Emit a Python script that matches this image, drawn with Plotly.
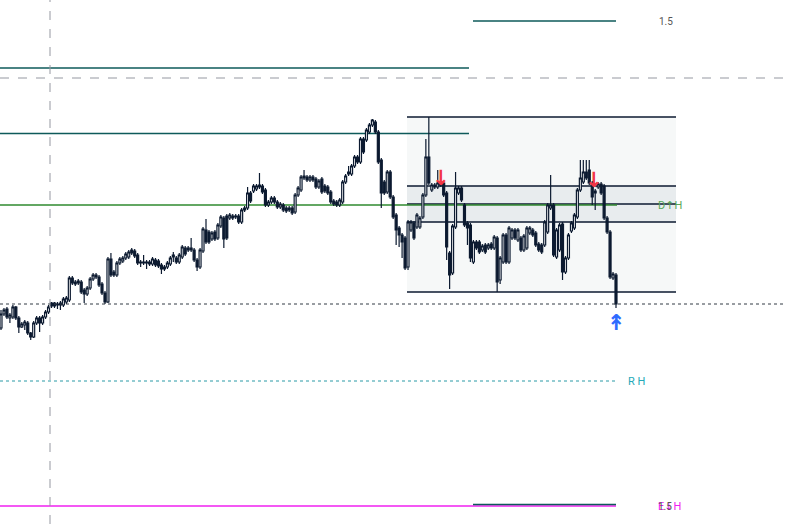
import plotly.graph_objects as go

opens = [196,210,215,206,207,217,206,197,199,201,191,187,201,206,201,207,212,221,221,219,
         219,219,222,224,246,240,241,242,234,230,236,245,247,247,240,231,222,265,252,249,
         261,263,266,267,274,273,269,262,261,262,260,260,264,263,259,255,257,260,267,266,
         262,267,276,274,274,274,264,257,273,294,292,285,292,286,298,306,308,306,306,308,
         308,302,314,316,331,333,335,337,338,334,319,322,326,322,317,319,316,314,316,312,
         329,334,346,347,344,347,345,337,345,338,337,332,323,322,319,322,342,350,350,358,
         367,362,385,384,392,399,402,392,364,342,332,352,327,309,296,289,286,257,294,301,
         297,297,307,329,367,334,337,337,341,341,331,271,251,297,331,336,319,301,299,262,
         282,282,274,279,276,280,276,286,244,262,289,262,286,294,284,286,274,276,291,294,
         291,280,279,279,292,316,319,267,274,300,252,266,293,296,307,334,342,352,354,341,
         331,337,340,338,306,292,246,249]
closes = [210,214,207,209,217,206,197,200,202,191,187,201,206,201,207,212,217,218,218,220,
          221,225,226,246,241,242,243,232,230,236,245,249,249,239,231,222,265,249,249,261,
          265,266,270,272,271,268,261,261,262,261,262,265,259,258,255,257,261,266,269,262,
          269,277,270,276,276,264,257,274,295,282,282,291,285,299,307,285,286,309,308,307,
          302,314,316,331,323,338,338,339,332,319,322,326,322,317,320,314,313,316,311,329,
          336,347,348,344,347,344,337,343,332,333,331,322,320,319,324,342,348,352,358,367,
          362,385,372,394,399,404,392,362,331,331,352,327,307,294,289,282,256,302,302,286,
          309,306,329,367,341,339,339,341,339,329,277,249,298,336,336,324,299,296,266,282,
          276,272,278,272,279,276,287,242,266,289,262,296,294,286,294,274,288,296,296,289,
          279,274,272,302,319,319,269,294,299,252,266,289,301,309,334,346,352,346,341,327,
          333,340,331,306,292,247,250,220]
highs = [214,216,217,211,219,218,208,202,204,203,192,203,208,208,209,214,219,222,222,222,
         223,227,228,248,248,244,245,244,236,238,247,251,251,249,242,233,267,271,254,263,
         267,268,272,274,276,275,271,264,269,264,264,267,266,265,261,259,263,268,272,268,
         271,279,278,278,286,276,266,276,297,305,294,293,294,301,309,308,310,311,310,310,
         310,316,318,337,333,340,340,351,340,336,324,328,328,324,322,321,318,318,318,331,
         338,349,354,349,349,349,347,345,347,340,339,334,325,324,326,344,350,358,360,369,
         369,387,387,396,401,405,404,394,366,344,354,354,329,311,298,291,288,304,304,303,
         311,308,331,385,407,341,341,354,343,343,333,273,300,352,338,338,321,303,301,284,
         284,284,280,281,281,282,289,288,268,291,291,298,296,296,296,288,290,298,298,296,
         293,282,281,304,321,349,321,296,301,302,268,291,303,311,336,364,364,364,364,343,
         335,342,342,340,308,294,252,251]
lows = [194,208,205,201,205,204,191,196,194,189,184,186,199,192,199,205,210,216,216,215,
        214,217,220,222,239,238,239,230,221,228,234,243,245,237,229,220,221,247,247,247,
        259,261,264,265,269,266,259,257,259,255,258,258,257,256,250,253,255,258,262,260,
        260,265,268,272,272,262,253,255,271,280,280,283,283,284,296,276,284,304,304,305,
        300,300,312,314,321,331,333,335,330,317,317,320,320,315,315,312,311,312,309,310,
        327,332,344,342,342,342,335,335,330,331,329,320,318,317,317,320,340,348,348,356,
        360,360,370,382,390,397,390,360,316,329,330,325,305,279,277,266,254,254,292,284,
        295,295,305,327,339,332,335,335,337,327,264,235,249,295,329,322,297,279,262,260,
        274,270,272,270,274,274,274,232,240,260,260,260,284,284,282,272,272,274,289,287,
        277,272,270,277,290,314,267,265,272,244,250,264,291,294,305,332,340,344,339,319,
        314,335,329,304,290,245,244,216]

# horizontal levels (price units)
fib_top_level = 503
teal_high_level = 456
crosshair_level = 446
box_top_level = 407
teal_mid_level = 390.5
band_high_level = 338
d_level = 319
band_mid_level = 320
band_low_level = 302
box_bottom_level = 232
last_price_level = 220
r_level = 143
fib_bottom_level = 19.5
e_level = 18

sell_signals_x = [148.1, 199.6]
sell_signals_y = [346, 344]
buy_signal_x = [207]
buy_signal_y = [202]

W, H = 785, 524
n = len(closes)
x = list(range(n))
px_per_bar = 615 / (n - 1)
x0 = -1 / px_per_bar
x1 = x0 + W / px_per_bar

NAVY = "#0c1a30"
TEAL = "#0e5a5a"

fig = go.Figure()
fig.add_trace(go.Candlestick(
    x=x, open=opens, high=highs, low=lows, close=closes,
    increasing=dict(line=dict(color=NAVY, width=1.2), fillcolor="#ffffff"),
    decreasing=dict(line=dict(color=NAVY, width=1.2), fillcolor=NAVY),
    whiskerwidth=0, showlegend=False, hoverinfo="skip"))

def px(v):
    return v / W

shapes = []
# range box
shapes.append(dict(type="rect", xref="paper", yref="y", x0=px(407), x1=px(676),
                   y0=box_bottom_level, y1=box_top_level, fillcolor="#f6f8f8",
                   line=dict(width=0), layer="below"))
shapes.append(dict(type="rect", xref="paper", yref="y", x0=px(407), x1=px(676),
                   y0=band_low_level, y1=band_high_level, fillcolor="#e8ecee",
                   line=dict(width=0), layer="below"))
for lv in [box_top_level, band_high_level, band_mid_level, band_low_level, box_bottom_level]:
    shapes.append(dict(type="line", xref="paper", yref="y", x0=px(407), x1=px(676),
                       y0=lv, y1=lv, line=dict(color=NAVY, width=1.3), layer="below"))
# teal lines
for lv in [teal_high_level, teal_mid_level]:
    shapes.append(dict(type="line", xref="paper", yref="y", x0=0, x1=px(469),
                       y0=lv, y1=lv, line=dict(color=TEAL, width=1.3), layer="below"))
shapes.append(dict(type="line", xref="paper", yref="y", x0=px(473), x1=px(616),
                   y0=fib_top_level, y1=fib_top_level, line=dict(color=TEAL, width=1.3)))
# green D level
shapes.append(dict(type="line", xref="paper", yref="y", x0=0, x1=px(617),
                   y0=d_level, y1=d_level, line=dict(color="#2f8a2f", width=1.3), layer="below"))
# magenta E level
shapes.append(dict(type="line", xref="paper", yref="y", x0=0, x1=px(616),
                   y0=e_level, y1=e_level, line=dict(color="#f020f0", width=1.5)))
shapes.append(dict(type="line", xref="paper", yref="y", x0=px(473), x1=px(616),
                   y0=fib_bottom_level, y1=fib_bottom_level, line=dict(color=TEAL, width=1.3)))
# dotted levels
shapes.append(dict(type="line", xref="paper", yref="y", x0=0, x1=1,
                   y0=last_price_level, y1=last_price_level,
                   line=dict(color="#333a45", width=1, dash="dot")))
shapes.append(dict(type="line", xref="paper", yref="y", x0=0, x1=px(618),
                   y0=r_level, y1=r_level, line=dict(color="#2a9aa6", width=1, dash="dot")))
# crosshair
shapes.append(dict(type="line", xref="paper", yref="y", x0=0, x1=1,
                   y0=crosshair_level, y1=crosshair_level,
                   line=dict(color="#9598a1", width=1, dash="dash")))
shapes.append(dict(type="line", xref="paper", yref="paper", x0=px(50), x1=px(50),
                   y0=0, y1=1, line=dict(color="#9598a1", width=1, dash="dash")))

ann = []
FONT = "Roboto, DejaVu Sans, sans-serif"
def label(xp, y, text, size, color):
    ann.append(dict(xref="paper", yref="y", x=px(xp), y=y, text=text, xanchor="center",
                    yanchor="middle", showarrow=False,
                    font=dict(family=FONT, size=size, color=color)))

label(666, fib_top_level, "1.5", 10, "#555555")
label(670, d_level, "D↑H", 11, "#5aa85a")
label(636, r_level, "R H", 11, "#25a9b8")
label(669, e_level, "E↓H", 11, "#f020f0")
label(665, e_level, "1.5", 10, "#555555")
for sx, sy in zip(sell_signals_x, sell_signals_y):
    ann.append(dict(xref="x", yref="y", x=sx, y=sy, text="<b>↓</b>", showarrow=False,
                    xanchor="center", yanchor="middle",
                    font=dict(family="DejaVu Sans", size=21, color="#f23645")))
for bx, by in zip(buy_signal_x, buy_signal_y):
    ann.append(dict(xref="x", yref="y", x=bx, y=by, text="<b>↟</b>", showarrow=False,
                    xanchor="center", yanchor="middle",
                    font=dict(family="DejaVu Sans", size=22, color="#2f6bff")))

fig.update_layout(
    width=W, height=H, margin=dict(l=0, r=0, t=0, b=0),
    paper_bgcolor="white", plot_bgcolor="white", boxgap=0.05,
    xaxis=dict(range=[x0, x1], visible=False, rangeslider=dict(visible=False), fixedrange=True),
    yaxis=dict(range=[0, H], visible=False, fixedrange=True),
    shapes=shapes, annotations=ann, showlegend=False,
)
fig.write_html("out.html", config={"displayModeBar": False},
               post_script="document.body.style.margin='0';document.body.style.overflow='hidden';")
